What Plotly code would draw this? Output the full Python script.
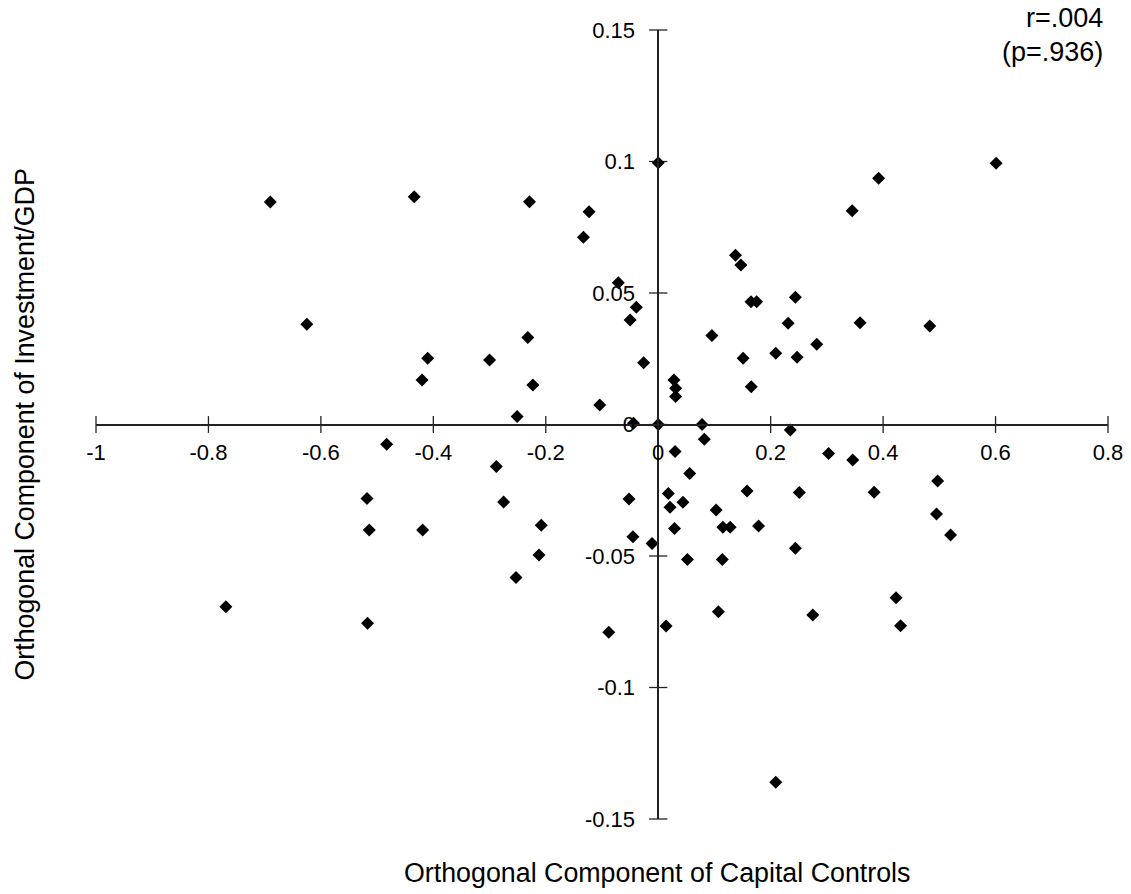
import plotly.graph_objects as go

# Orthogonal component of capital controls (x) vs investment/GDP (y)
cap_controls = [
    -0.690, -0.625, -0.434, -0.229, -0.123, -0.133, -0.071, -0.039, -0.050, -0.232,
    -0.410, -0.300, -0.420, -0.223, -0.026, -0.104, -0.251, -0.044,
    0.000, 0.000,
    0.601, 0.392, 0.345, 0.1375, 0.147, 0.165, 0.175, 0.244, 0.0955, 0.231,
    0.359, 0.483, 0.282, 0.209, 0.151, 0.247, 0.1655, 0.028, 0.031, 0.031, 0.078,
    -0.483, -0.518, -0.514, -0.769, -0.517, -0.288, -0.275, -0.208, -0.419, -0.212,
    -0.253, -0.052, -0.045, -0.011, -0.088,
    0.082, 0.235, 0.030, 0.056, 0.158, 0.251, 0.018, 0.044, 0.021, 0.103,
    0.029, 0.115, 0.128, 0.1785, 0.244, 0.052, 0.114, 0.303, 0.346, 0.497,
    0.384, 0.495, 0.520, 0.423, 0.014, 0.107, 0.275, 0.431, 0.209,
]
investment_gdp = [
    0.0846, 0.0381, 0.0866, 0.0847, 0.0809, 0.0712, 0.0539, 0.0446, 0.0397, 0.0331,
    0.0252, 0.0245, 0.0169, 0.0150, 0.0235, 0.0074, 0.0030, 0.0005,
    0.0995, 0.0000,
    0.0993, 0.0936, 0.0813, 0.0644, 0.0606, 0.0467, 0.0467, 0.0484, 0.0338, 0.0385,
    0.0387, 0.0375, 0.0305, 0.0271, 0.0252, 0.0256, 0.0144, 0.0169, 0.0138, 0.0106, 0.0000,
    -0.0075, -0.0281, -0.0401, -0.0693, -0.0756, -0.0160, -0.0295, -0.0383, -0.0401, -0.0496,
    -0.0582, -0.0283, -0.0427, -0.0452, -0.0790,
    -0.0056, -0.0021, -0.0103, -0.0186, -0.0253, -0.0259, -0.0262, -0.0296, -0.0315, -0.0325,
    -0.0395, -0.0391, -0.0391, -0.0386, -0.0471, -0.0513, -0.0513, -0.0110, -0.0135, -0.0215,
    -0.0258, -0.0340, -0.0420, -0.0659, -0.0766, -0.0712, -0.0724, -0.0765, -0.1360,
]

x_tickvals = [-1, -0.8, -0.6, -0.4, -0.2, 0, 0.2, 0.4, 0.6, 0.8]
x_ticktext = ["-1", "-0.8", "-0.6", "-0.4", "-0.2", "0", "0.2", "0.4", "0.6", "0.8"]
y_tickvals = [-0.15, -0.1, -0.05, 0, 0.05, 0.1, 0.15]
y_ticktext = ["-0.15", "-0.1", "-0.05", "0", "0.05", "0.1", "0.15"]

x_title = "Orthogonal Component of Capital Controls"
y_title = "Orthogonal Component of Investment/GDP"
stat_r = "r=.004"
stat_p = "(p=.936)"

FONT = "Arial, Liberation Sans, Helvetica, sans-serif"
AXIS_COLOR = "#222"
X_RANGE = [-1, 0.8]
Y_RANGE = [-0.15, 0.15]
y_axis_pos = (0 - X_RANGE[0]) / (X_RANGE[1] - X_RANGE[0])
x_axis_pos = (0 - Y_RANGE[0]) / (Y_RANGE[1] - Y_RANGE[0])

fig = go.Figure()

# crossing tick marks on the axes through the origin (positions from the tick arrays)
fig.add_trace(go.Scatter(
    x=x_tickvals, y=[0] * len(x_tickvals), mode="markers", cliponaxis=False,
    marker=dict(symbol="line-ns", size=12, color=AXIS_COLOR,
                line=dict(width=1.3, color=AXIS_COLOR)),
    showlegend=False, hoverinfo="skip",
))
fig.add_trace(go.Scatter(
    x=[0] * len(y_tickvals), y=y_tickvals, mode="markers", cliponaxis=False,
    marker=dict(symbol="line-ew", size=13, color=AXIS_COLOR,
                line=dict(width=1.3, color=AXIS_COLOR)),
    showlegend=False, hoverinfo="skip",
))

fig.add_trace(go.Scatter(
    x=cap_controls, y=investment_gdp, mode="markers",
    marker=dict(symbol="diamond", size=10, color="black", line=dict(width=0)),
    showlegend=False,
))

axis_common = dict(showgrid=False, zeroline=False, showline=True, automargin=False,
                   linecolor=AXIS_COLOR, linewidth=1.5, ticks="",
                   tickfont=dict(family=FONT, size=22, color="black"))

fig.update_layout(
    width=1131, height=894,
    margin=dict(l=96, r=23, t=30, b=75),
    plot_bgcolor="white", paper_bgcolor="white",
    xaxis=dict(range=X_RANGE, anchor="free", position=x_axis_pos, side="bottom",
               tickmode="array", tickvals=x_tickvals, ticktext=x_ticktext,
               ticklabelstandoff=8, **axis_common),
    yaxis=dict(range=Y_RANGE, anchor="free", position=y_axis_pos, side="left",
               tickmode="array", tickvals=y_tickvals, ticktext=y_ticktext,
               ticklabelstandoff=18, **axis_common),
    annotations=[
        dict(text=x_title, xref="paper", yref="paper", x=0.5543, y=-0.0684,
             xanchor="center", yanchor="middle", showarrow=False,
             font=dict(family=FONT, size=26.8, color="black")),
        dict(text=y_title, xref="paper", yref="paper", x=-0.0711, y=0.5,
             xanchor="center", yanchor="middle", showarrow=False, textangle=-90,
             font=dict(family=FONT, size=26.8, color="black")),
        dict(text=stat_r, xref="paper", yref="paper", x=0.997, y=1.0152,
             xanchor="right", yanchor="middle", showarrow=False,
             font=dict(family=FONT, size=27, color="black")),
        dict(text=stat_p, xref="paper", yref="paper", x=0.997, y=0.972,
             xanchor="right", yanchor="middle", showarrow=False,
             font=dict(family=FONT, size=27, color="black")),
    ],
)

fig.write_html("out.html", config={"displayModeBar": False},
               post_script="document.body.style.margin='0';")
